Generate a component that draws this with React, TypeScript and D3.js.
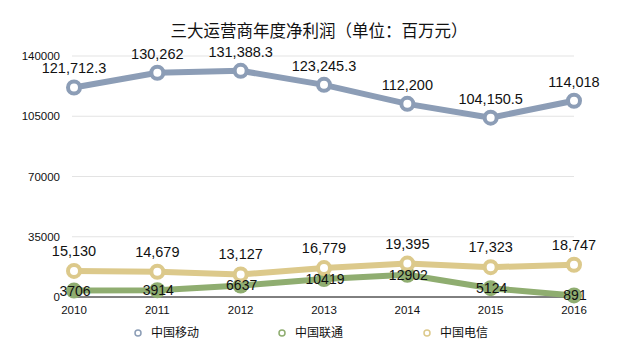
import React from 'react';
import * as d3 from 'd3';

const years = ['2010', '2011', '2012', '2013', '2014', '2015', '2016'];
const mobile = [121712.3, 130262, 131388.3, 123245.3, 112200, 104150.5, 114018];
const unicom = [3706, 3914, 6637, 10419, 12902, 5124, 891];
const telecom = [15130, 14679, 13127, 16779, 19395, 17323, 18747];
const mobileLabels = ['121,712.3', '130,262', '131,388.3', '123,245.3', '112,200', '104,150.5', '114,018'];
const unicomLabels = ['3706', '3914', '6637', '10419', '12902', '5124', '891'];
const telecomLabels = ['15,130', '14,679', '13,127', '16,779', '19,395', '17,323', '18,747'];
const yTicks = [0, 35000, 70000, 105000, 140000];
const seriesNames = ['中国移动', '中国联通', '中国电信'];

const W = 631;
const H = 351;
const font = '"Liberation Sans", "Noto Sans CJK SC", sans-serif';
const cjkFont = '"Noto Sans CJK SC", "Liberation Sans", sans-serif';

const colors = {
  mobile: '#8c9db6',
  unicom: '#8fad70',
  telecom: '#dcc98b',
};

const App = () => {
  const x = d3.scalePoint<string>().domain(years).range([74, 574]);
  const y = d3.scaleLinear().domain([0, 140000]).range([297, 56]);

  const line = d3.line<number>()
    .x((d, i) => x(years[i]) as number)
    .y(d => y(d));

  const series = [
    { key: 'unicom', values: unicom, color: colors.unicom, filled: true },
    { key: 'telecom', values: telecom, color: colors.telecom, filled: false },
    { key: 'mobile', values: mobile, color: colors.mobile, filled: false },
  ];

  const legend = [
    { name: seriesNames[0], color: colors.mobile, cx: 138 },
    { name: seriesNames[1], color: colors.unicom, cx: 282 },
    { name: seriesNames[2], color: colors.telecom, cx: 427 },
  ];

  return (
    <svg width={W} height={H} style={{ position: 'absolute', left: 0, top: 0, background: '#fff' }}>
      <rect width={W} height={H} fill="#fff" />
      {/* Title */}
      <text x={319} y={37} textAnchor="middle" fontSize={16.5} fontFamily={cjkFont} fill="#111">
        三大运营商年度净利润（单位：百万元）
      </text>

      {/* Grid */}
      {yTicks.filter(t => t > 0).map(t => (
        <line key={t} x1={72} x2={574} y1={y(t)} y2={y(t)} stroke="#e3e3e3" strokeWidth={1} />
      ))}
      {yTicks.map(t => (
        <text key={t} x={60} y={y(t)} dy="0.35em" textAnchor="end" fontSize={11.5} fontFamily={font} fill="#111">
          {t}
        </text>
      ))}
      <line x1={72} x2={574} y1={y(0)} y2={y(0)} stroke="#000" strokeWidth={1} />

      {/* X labels */}
      {years.map(yr => (
        <text key={yr} x={x(yr)} y={314} textAnchor="middle" fontSize={11.5} fontFamily={font} fill="#111">
          {yr}
        </text>
      ))}

      {/* Lines */}
      {series.map(s => (
        <g key={s.key}>
          <path d={line(s.values) || ''} fill="none" stroke={s.color} strokeWidth={6} strokeLinejoin="round" />
          {s.values.map((v, i) => (
            <circle key={i} cx={x(years[i])} cy={y(v)} r={s.filled ? 8 : 6}
              fill={s.filled ? s.color : '#fff'} stroke={s.color} strokeWidth={s.filled ? 0 : 4} />
          ))}
        </g>
      ))}

      {/* Data labels */}
      {mobile.map((v, i) => (
        <text key={'m' + i} x={x(years[i])} y={y(v) - 14} textAnchor="middle" fontSize={14.5} fontFamily={font} fill="#111">
          {mobileLabels[i]}
        </text>
      ))}
      {telecom.map((v, i) => (
        <text key={'t' + i} x={x(years[i])} y={y(v) - 15} textAnchor="middle" fontSize={14.5} fontFamily={font} fill="#111">
          {telecomLabels[i]}
        </text>
      ))}
      {unicom.map((v, i) => (
        <text key={'u' + i} x={x(years[i]) as number + 1} y={y(v)} dy="0.35em" textAnchor="middle" fontSize={14} fontFamily={font} fill="#111">
          {unicomLabels[i]}
        </text>
      ))}

      {/* Legend */}
      {legend.map(l => (
        <g key={l.name}>
          <circle cx={l.cx} cy={333} r={3} fill="#fff" stroke={l.color} strokeWidth={1.5} />
          <text x={l.cx + 13} y={333} dy="0.35em" fontSize={12} fontFamily={cjkFont} fill="#111">
            {l.name}
          </text>
        </g>
      ))}
    </svg>
  );
};

export default App;
